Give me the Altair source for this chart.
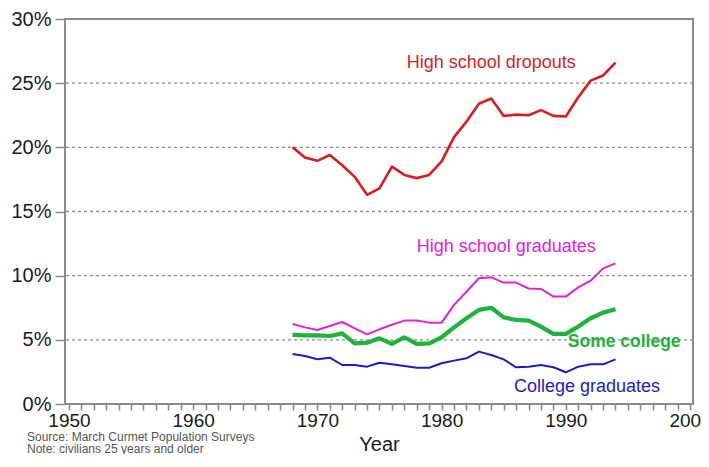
import altair as alt
import pandas as pd

years = list(range(1968, 1995))

dropouts = [20.0, 19.2, 18.95, 19.4, 18.6, 17.7, 16.3, 16.8, 18.5, 17.85, 17.6, 17.85, 18.9,
            20.8, 22.0, 23.4, 23.8, 22.45, 22.55, 22.5, 22.9, 22.45, 22.4, 23.9, 25.2, 25.6, 26.6]
hs_grads = [6.24, 5.97, 5.77, 6.08, 6.39, 5.9, 5.43, 5.82, 6.18, 6.5, 6.5, 6.34, 6.34,
            7.72, 8.75, 9.8, 9.87, 9.46, 9.46, 9.0, 8.96, 8.37, 8.37, 9.09, 9.61, 10.57, 10.96]
some_college = [5.38, 5.35, 5.35, 5.3, 5.5, 4.73, 4.78, 5.12, 4.68, 5.2, 4.68, 4.73, 5.2,
                5.97, 6.68, 7.33, 7.5, 6.75, 6.55, 6.5, 6.03, 5.46, 5.46, 6.03, 6.68, 7.12, 7.38]
college_grads = [3.9, 3.74, 3.48, 3.61, 3.04, 3.04, 2.91, 3.22, 3.09, 2.96, 2.83, 2.83, 3.17,
                 3.38, 3.56, 4.08, 3.82, 3.48, 2.86, 2.91, 3.04, 2.86, 2.47, 2.91, 3.09, 3.09, 3.48]

series_names = ["High school dropouts", "High school graduates", "Some college", "College graduates"]
series_values = [dropouts, hs_grads, some_college, college_grads]
series_colors = ["#d61e1e", "#dd22dd", "#1fb33c", "#1c1cbf"]
series_widths = [2.6, 2.0, 4.2, 2.0]

label_years = [1984.0, 1985.2, 1994.7, 1991.7]
label_values = [26.58, 12.26, 4.8, 1.3]
label_weights = ["normal", "normal", "bold", "normal"]
label_sizes = [18, 18, 17.5, 18]

source_text = "Source: March Curmet Population Surveys\nNote: civilians 25 years and older"

year_ticks = list(range(1950, 2001))
pct_ticks = [0, 5, 10, 15, 20, 25, 30]
grid_levels = [5, 10, 15, 20, 25]

FONT = "Liberation Sans"

xscale = alt.Scale(domain=[1949.68, 2000.24], nice=False, zero=False)
yscale = alt.Scale(domain=[0, 30], nice=False)

xaxis = alt.Axis(values=year_ticks, labelExpr="datum.value % 10 == 0 ? '' + datum.value : ''",
                 labelOverlap=False, labelFontSize=19, labelColor="#1a1a1a", labelFont=FONT,
                 tickSize=6, tickColor="#8a8a8a", tickWidth=1.5, domain=False, grid=False,
                 labelPadding=1, labelFlush=False, title="Year", titleFontSize=20, titleFont=FONT,
                 titleFontWeight="normal", titleColor="#1a1a1a", titlePadding=4)
yaxis = alt.Axis(values=pct_ticks, labelExpr="datum.value + '%'", labelFontSize=20,
                 labelColor="#1a1a1a", labelFont=FONT, tickSize=10, tickColor="#8a8a8a",
                 tickWidth=1.5, domain=False, grid=False, labelPadding=4, title=None)

layers = []

grid_df = pd.DataFrame({"v": grid_levels})
layers.append(
    alt.Chart(grid_df).mark_rule(color="#8c8c8c", strokeDash=[3, 3], strokeWidth=1.3).encode(
        y=alt.Y("v:Q", scale=yscale, axis=yaxis)
    )
)

for name, vals, col, w in zip(series_names, series_values, series_colors, series_widths):
    df = pd.DataFrame({"year": years, "value": vals})
    layers.append(
        alt.Chart(df).mark_line(color=col, strokeWidth=w, strokeJoin="round").encode(
            x=alt.X("year:Q", scale=xscale, axis=xaxis),
            y=alt.Y("value:Q", scale=yscale, axis=yaxis),
        )
    )

for name, lx, ly, col, wt, fs in zip(series_names, label_years, label_values, series_colors,
                                     label_weights, label_sizes):
    df = pd.DataFrame({"year": [lx], "value": [ly], "label": [name]})
    layers.append(
        alt.Chart(df).mark_text(color=col, fontSize=fs, font=FONT, fontWeight=wt,
                                align="center", baseline="middle").encode(
            x=alt.X("year:Q", scale=xscale, axis=xaxis),
            y=alt.Y("value:Q", scale=yscale, axis=yaxis),
            text="label:N",
        )
    )

src_df = pd.DataFrame({"line": [source_text]})
layers.append(
    alt.Chart(src_df).mark_text(color="#555555", fontSize=12, font=FONT, align="left",
                                baseline="alphabetic", lineBreak="\n", lineHeight=11.5).encode(
        x=alt.value(-38),
        y=alt.value(422),
        text="line:N",
    )
)

chart = alt.layer(*layers).properties(
    width=628, height=385,
    autosize=alt.AutoSizeParams(type="none"),
    padding={"left": 57, "top": 11, "right": 8, "bottom": 50},
    background="white",
).configure_view(stroke="#8a8a8a", strokeWidth=2)

chart.save("out.html", embed_options={"renderer": "svg", "actions": False})
